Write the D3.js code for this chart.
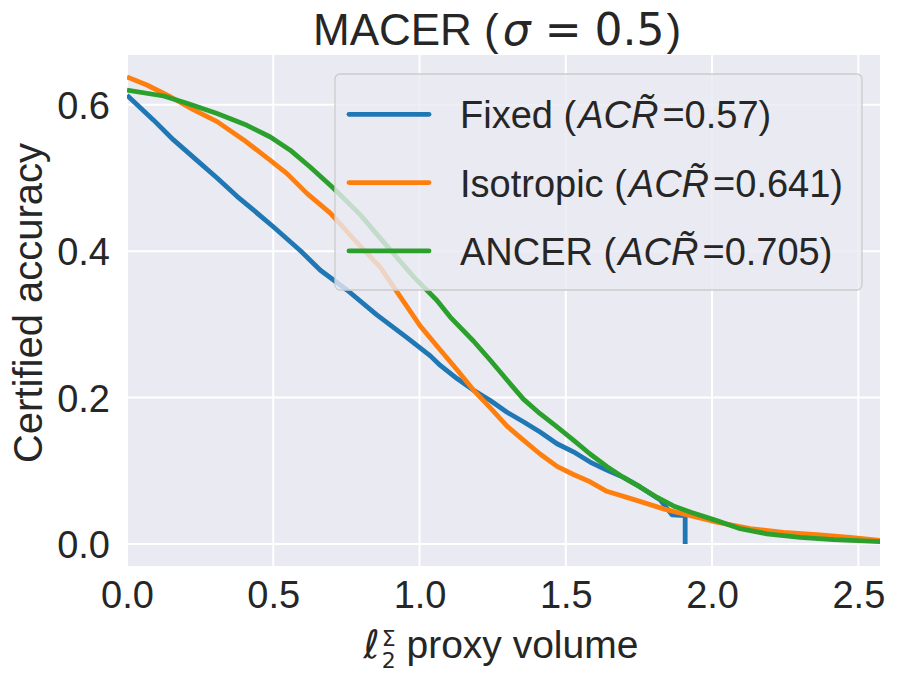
<!DOCTYPE html>
<html>
<head>
<meta charset="utf-8">
<script src="https://cdn.jsdelivr.net/npm/d3@7"></script>
<style>
  body { margin: 0; background: #fff; }
  text { font-family: "Liberation Sans", Arial, sans-serif; fill: #262626; }
</style>
</head>
<body>
<svg id="chart" width="899" height="675"></svg>
<script>
// values
const fixedX = [0, 0.091, 0.159, 0.239, 0.308, 0.376, 0.433, 0.501, 0.592, 0.661, 0.752, 0.854, 0.957, 1.037, 1.071, 1.128, 1.185, 1.242, 1.299, 1.355, 1.412, 1.470, 1.526, 1.583, 1.640, 1.697, 1.754, 1.823, 1.863, 1.908, 1.908];
const fixedY = [0.613, 0.579, 0.552, 0.524, 0.500, 0.475, 0.456, 0.433, 0.401, 0.374, 0.347, 0.313, 0.282, 0.257, 0.244, 0.226, 0.210, 0.196, 0.180, 0.167, 0.153, 0.137, 0.126, 0.112, 0.101, 0.091, 0.078, 0.060, 0.040, 0.039, 0.0];

const isoX = [0, 0.068, 0.148, 0.228, 0.308, 0.399, 0.490, 0.547, 0.615, 0.695, 0.774, 0.866, 0.934, 1.002, 1.071, 1.128, 1.185, 1.242, 1.299, 1.355, 1.412, 1.470, 1.526, 1.583, 1.640, 1.731, 1.834, 1.902, 2.016, 2.130, 2.244, 2.358, 2.472, 2.600];
const isoY = [0.638, 0.627, 0.611, 0.593, 0.577, 0.552, 0.524, 0.506, 0.479, 0.452, 0.417, 0.378, 0.338, 0.298, 0.265, 0.238, 0.210, 0.186, 0.161, 0.142, 0.123, 0.106, 0.095, 0.085, 0.072, 0.061, 0.048, 0.041, 0.030, 0.021, 0.016, 0.013, 0.009, 0.004];

const ancerX = [0, 0.125, 0.205, 0.308, 0.410, 0.490, 0.558, 0.626, 0.706, 0.797, 0.889, 0.980, 1.059, 1.105, 1.185, 1.242, 1.299, 1.355, 1.412, 1.470, 1.526, 1.583, 1.640, 1.697, 1.754, 1.811, 1.868, 1.930, 2.016, 2.096, 2.187, 2.301, 2.415, 2.600];
const ancerY = [0.620, 0.612, 0.602, 0.588, 0.572, 0.556, 0.538, 0.515, 0.486, 0.450, 0.407, 0.365, 0.333, 0.310, 0.277, 0.251, 0.224, 0.198, 0.178, 0.160, 0.142, 0.123, 0.106, 0.091, 0.078, 0.064, 0.052, 0.043, 0.032, 0.021, 0.014, 0.009, 0.006, 0.003];

const seriesNames = ["Fixed", "Isotropic", "ANCER"];
const acrValues = ["0.57", "0.641", "0.705"];
const colors = ["#1f77b4", "#ff7f0e", "#2ca02c"];
const xTicks = [0, 0.5, 1.0, 1.5, 2.0, 2.5];
const yTicks = [0, 0.2, 0.4, 0.6];

const series = [
  { name: seriesNames[0], acr: acrValues[0], color: colors[0], pts: fixedX.map((x, i) => [x, fixedY[i]]) },
  { name: seriesNames[1], acr: acrValues[1], color: colors[1], pts: isoX.map((x, i) => [x, isoY[i]]) },
  { name: seriesNames[2], acr: acrValues[2], color: colors[2], pts: ancerX.map((x, i) => [x, ancerY[i]]) }
];

const svg = d3.select("#chart");
const plotL = 127, plotR = 880, plotT = 55, plotB = 566;

const x = d3.scaleLinear().domain([0, 2.574]).range([plotL, plotR]);
const y = d3.scaleLinear().domain([-0.030, 0.668]).range([plotB, plotT]);

// axes background (seaborn darkgrid)
svg.append("rect")
  .attr("x", plotL).attr("y", plotT)
  .attr("width", plotR - plotL).attr("height", plotB - plotT)
  .attr("fill", "#eaeaf2");

svg.append("clipPath").attr("id", "clip")
  .append("rect")
  .attr("x", plotL).attr("y", plotT)
  .attr("width", plotR - plotL).attr("height", plotB - plotT);

// grid
svg.append("g").selectAll("line").data(xTicks).join("line")
  .attr("x1", d => x(d)).attr("x2", d => x(d))
  .attr("y1", plotT).attr("y2", plotB)
  .attr("stroke", "white").attr("stroke-width", 2);
svg.append("g").selectAll("line").data(yTicks).join("line")
  .attr("x1", plotL).attr("x2", plotR)
  .attr("y1", d => y(d)).attr("y2", d => y(d))
  .attr("stroke", "white").attr("stroke-width", 2);

// axes
const xAxis = svg.append("g")
  .attr("transform", `translate(0,${plotB})`)
  .call(d3.axisBottom(x).tickValues(xTicks).tickFormat(d3.format(".1f")).tickSize(0));
xAxis.select(".domain").remove();
xAxis.selectAll("text")
  .attr("y", 42).attr("dy", null)
  .style("font-size", "38px").attr("fill", "#262626");

const yAxis = svg.append("g")
  .attr("transform", `translate(${plotL},0)`)
  .call(d3.axisLeft(y).tickValues(yTicks).tickFormat(d3.format(".1f")).tickSize(0));
yAxis.select(".domain").remove();
yAxis.selectAll("text")
  .attr("x", -17).attr("dy", "0.36em")
  .style("font-size", "38px").attr("fill", "#262626");

// lines
const line = d3.line().x(d => x(d[0])).y(d => y(d[1]));
svg.append("g").attr("clip-path", "url(#clip)")
  .selectAll("path").data(series).join("path")
  .attr("d", d => line(d.pts))
  .attr("fill", "none")
  .attr("stroke", d => d.color)
  .attr("stroke-width", 4.8)
  .attr("stroke-linejoin", "round");

// legend
const lg = svg.append("g");
lg.append("rect")
  .attr("x", 335).attr("y", 74).attr("width", 527).attr("height", 216)
  .attr("rx", 5)
  .attr("fill", "#eaeaf2").attr("fill-opacity", 0.8)
  .attr("stroke", "#cccccc").attr("stroke-width", 1.3);

const rows = lg.selectAll("g.row").data(series).join("g")
  .attr("class", "row")
  .attr("transform", (d, i) => `translate(0,${114.3 + i * 68.3})`);
rows.append("line")
  .attr("x1", 349).attr("x2", 429)
  .attr("stroke", d => d.color).attr("stroke-width", 4.8)
  .attr("stroke-linecap", "round");
const lt = rows.append("text")
  .attr("x", 460).attr("y", 14)
  .style("font-size", "38px");
lt.append("tspan").text(d => d.name + " (");
lt.append("tspan").attr("dx", 2).style("font-style", "italic").text("ACR\u0303");
lt.append("tspan").attr("dx", 4).text(d => "=" + d.acr + ")");

// title
const title = svg.append("text")
  .attr("x", 313).attr("y", 45)
  .style("font-size", "44px");
title.append("tspan").text("MACER (");
title.append("tspan").attr("dx", 4)
  .style("font-family", "'DejaVu Sans'").style("font-style", "italic").text("σ");
title.append("tspan").attr("dx", 14)
  .style("font-family", "'DejaVu Sans'").text("=");
title.append("tspan").attr("dx", 13)
  .style("font-family", "'DejaVu Sans'").text("0.5");
title.append("tspan").attr("dx", 2).text(")");

// x label
const xl = svg.append("text")
  .attr("x", 501).attr("y", 658)
  .attr("text-anchor", "middle")
  .style("font-size", "39px");
xl.append("tspan").style("font-family", "'DejaVu Sans'").style("font-style", "italic").text("ℓ");
xl.append("tspan").attr("dx", 2).attr("dy", -12)
  .style("font-family", "'DejaVu Sans'").style("font-size", "22px").text("Σ");
xl.append("tspan").attr("dx", -14).attr("dy", 22)
  .style("font-family", "'DejaVu Sans'").style("font-size", "22px").text("2");
xl.append("tspan").attr("dy", -10).text(" proxy volume");

// y label
svg.append("text")
  .attr("transform", "translate(42,303) rotate(-90)")
  .attr("text-anchor", "middle")
  .style("font-size", "40px")
  .text("Certified accuracy");
</script>
</body>
</html>
